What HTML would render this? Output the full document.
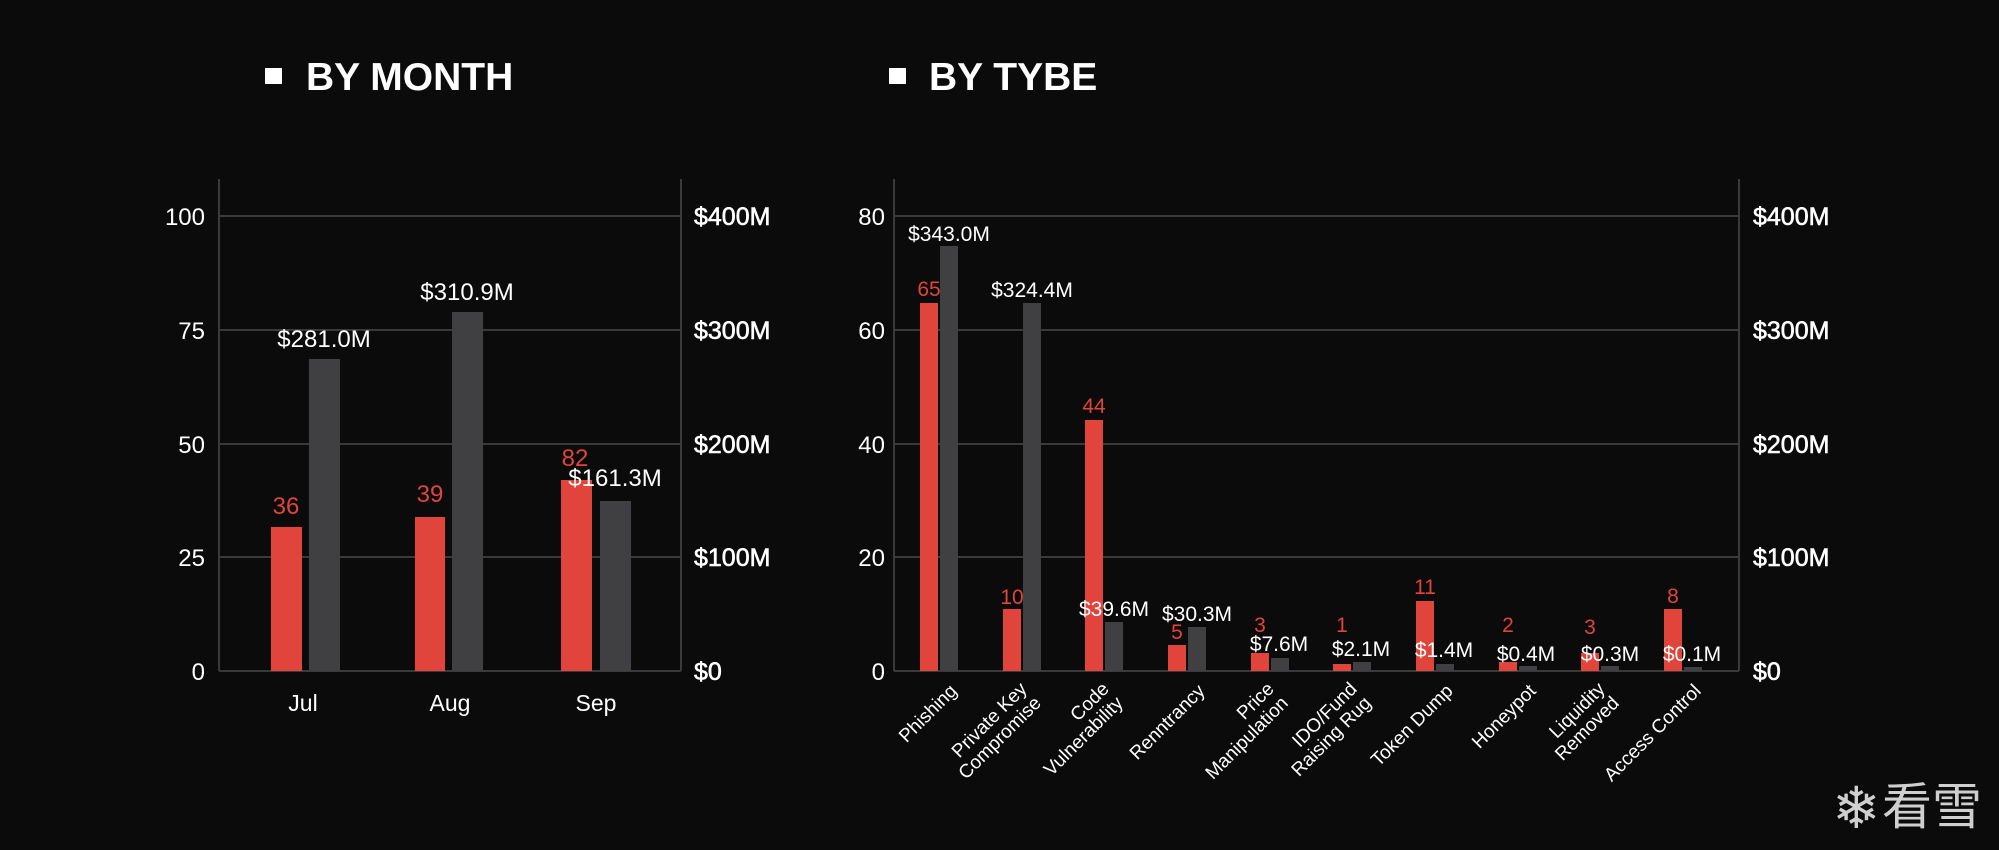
<!DOCTYPE html>
<html><head><meta charset="utf-8"><style>
html,body{margin:0;padding:0;background:#0b0b0b;}
svg{display:block;font-family:"Liberation Sans","Noto Sans CJK SC",sans-serif;}
</style></head><body>
<svg width="1999" height="850" viewBox="0 0 1999 850" xmlns="http://www.w3.org/2000/svg">
<rect width="1999" height="850" fill="#0b0b0b"/>
<rect x="265" y="68" width="17" height="16" fill="#fff"/>
<text x="306" y="90" fill="#fff" font-size="39" font-weight="bold">BY MONTH</text>
<rect x="889" y="68" width="17" height="16" fill="#fff"/>
<text x="929" y="90" fill="#fff" font-size="39" font-weight="bold">BY TYBE</text>

<g stroke="#3a3a3a" stroke-width="2">
<line x1="219" y1="216" x2="681" y2="216"/>
<line x1="219" y1="330" x2="681" y2="330"/>
<line x1="219" y1="444" x2="681" y2="444"/>
<line x1="219" y1="557" x2="681" y2="557"/>
<line x1="219" y1="671" x2="681" y2="671"/>
<line x1="219" y1="179" x2="219" y2="671"/>
<line x1="681" y1="179" x2="681" y2="671"/>
</g>
<g fill="#fff" font-size="24" text-anchor="end">
<text x="205" y="225">100</text><text x="205" y="339">75</text><text x="205" y="453">50</text><text x="205" y="566">25</text><text x="205" y="680">0</text>
</g>
<g fill="#fff" font-size="25" stroke="#fff" stroke-width="0.6">
<text x="694" y="225">$400M</text><text x="694" y="339">$300M</text><text x="694" y="453">$200M</text><text x="694" y="566">$100M</text><text x="694" y="680">$0</text>
</g>
<g fill="#e0443a">
<rect x="271" y="527" width="31" height="144"/>
<rect x="415" y="517" width="30" height="154"/>
<rect x="561" y="480" width="31" height="191"/>
</g>
<g fill="#404042">
<rect x="309" y="359" width="31" height="312"/>
<rect x="452" y="312" width="31" height="359"/>
<rect x="600" y="501" width="31" height="170"/>
</g>
<g fill="#e0443a" font-size="24" text-anchor="middle">
<text x="286" y="514">36</text><text x="430" y="502">39</text><text x="575" y="466">82</text>
</g>
<g fill="#fff" font-size="24" text-anchor="middle">
<text x="324" y="347">$281.0M</text><text x="467" y="300">$310.9M</text><text x="615" y="486">$161.3M</text>
</g>
<g fill="#fff" font-size="23" text-anchor="middle">
<text x="303" y="711">Jul</text><text x="450" y="711">Aug</text><text x="596" y="711">Sep</text>
</g>

<g stroke="#3a3a3a" stroke-width="2">
<line x1="894" y1="216" x2="1739" y2="216"/>
<line x1="894" y1="330" x2="1739" y2="330"/>
<line x1="894" y1="444" x2="1739" y2="444"/>
<line x1="894" y1="557" x2="1739" y2="557"/>
<line x1="894" y1="671" x2="1739" y2="671"/>
<line x1="894" y1="179" x2="894" y2="671"/>
<line x1="1739" y1="179" x2="1739" y2="671"/>
</g>
<g fill="#fff" font-size="24" text-anchor="end">
<text x="885" y="225">80</text><text x="885" y="339">60</text><text x="885" y="453">40</text><text x="885" y="566">20</text><text x="885" y="680">0</text>
</g>
<g fill="#fff" font-size="25" stroke="#fff" stroke-width="0.6">
<text x="1753" y="225">$400M</text><text x="1753" y="339">$300M</text><text x="1753" y="453">$200M</text><text x="1753" y="566">$100M</text><text x="1753" y="680">$0</text>
</g>
<g fill="#e0443a">
<rect x="920" y="303" width="18" height="368"/>
<rect x="1003" y="609" width="18" height="62"/>
<rect x="1085" y="420" width="18" height="251"/>
<rect x="1168" y="645" width="18" height="26"/>
<rect x="1251" y="653" width="18" height="18"/>
<rect x="1333" y="664" width="18" height="7"/>
<rect x="1416" y="601" width="18" height="70"/>
<rect x="1499" y="662" width="18" height="9"/>
<rect x="1581" y="653" width="18" height="18"/>
<rect x="1664" y="609" width="18" height="62"/>
</g>
<g fill="#404042">
<rect x="940" y="246" width="18" height="425"/>
<rect x="1023" y="303" width="18" height="368"/>
<rect x="1105" y="622" width="18" height="49"/>
<rect x="1188" y="627" width="18" height="44"/>
<rect x="1271" y="658" width="18" height="13"/>
<rect x="1353" y="662" width="18" height="9"/>
<rect x="1436" y="664" width="18" height="7"/>
<rect x="1519" y="666" width="18" height="5"/>
<rect x="1601" y="666" width="18" height="5"/>
<rect x="1684" y="667" width="18" height="4"/>
</g>
<g fill="#e0443a" font-size="21" text-anchor="middle">
<text x="929" y="296">65</text><text x="1012" y="604">10</text><text x="1094" y="413">44</text><text x="1177" y="639">5</text>
<text x="1260" y="632">3</text><text x="1342" y="632">1</text><text x="1425" y="594">11</text><text x="1508" y="632">2</text>
<text x="1590" y="634">3</text><text x="1673" y="603">8</text>
</g>
<g fill="#fff" font-size="21" text-anchor="middle">
<text x="949" y="241">$343.0M</text><text x="1032" y="297">$324.4M</text><text x="1114" y="616">$39.6M</text><text x="1197" y="621">$30.3M</text>
<text x="1279" y="651">$7.6M</text><text x="1361" y="656">$2.1M</text><text x="1444" y="657">$1.4M</text><text x="1526" y="661">$0.4M</text>
<text x="1610" y="661">$0.3M</text><text x="1692" y="661">$0.1M</text>
</g>
<g fill="#fff" font-size="19" text-anchor="end">
<text transform="translate(958,692) rotate(-45)">Phishing</text>
<text transform="translate(1028,690) rotate(-45)"><tspan x="0" dy="0">Private Key</tspan><tspan x="0" dy="20">Compromise</tspan></text>
<text transform="translate(1110,690) rotate(-45)"><tspan x="0" dy="0">Code</tspan><tspan x="0" dy="20">Vulnerability</tspan></text>
<text transform="translate(1206,692) rotate(-45)">Renntrancy</text>
<text transform="translate(1275,690) rotate(-45)"><tspan x="0" dy="0">Price</tspan><tspan x="0" dy="20">Manipulation</tspan></text>
<text transform="translate(1358,690) rotate(-45)"><tspan x="0" dy="0">IDO/Fund</tspan><tspan x="0" dy="20">Raising Rug</tspan></text>
<text transform="translate(1454,692) rotate(-45)">Token Dump</text>
<text transform="translate(1537,692) rotate(-45)">Honeypot</text>
<text transform="translate(1606,690) rotate(-45)"><tspan x="0" dy="0">Liquidity</tspan><tspan x="0" dy="20">Removed</tspan></text>
<text transform="translate(1702,692) rotate(-45)">Access Control</text>
</g>
<text x="1832" y="828" fill="#cfcfcf" font-size="58">❄</text>
<text x="1882" y="824" fill="#cfcfcf" font-size="50" font-family="Noto Sans CJK SC, sans-serif">看雪</text>
</svg>
</body></html>
